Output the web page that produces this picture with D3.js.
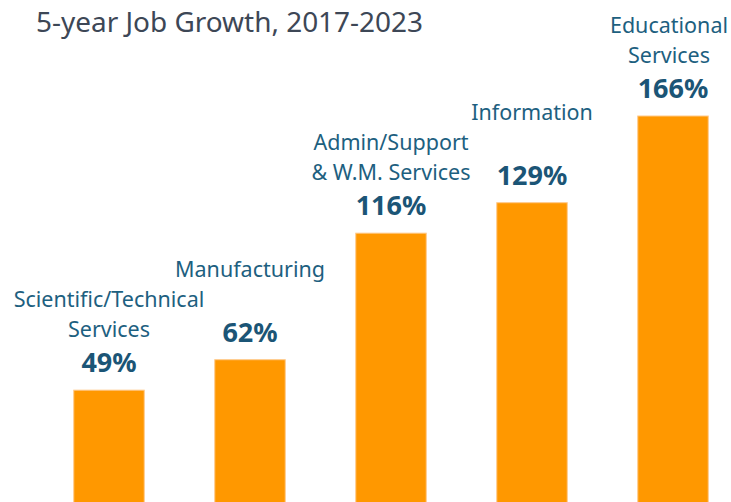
<!DOCTYPE html>
<html>
<head>
<meta charset="utf-8">
<script src="https://cdn.jsdelivr.net/npm/d3@7"></script>
<style>
  body { margin: 0; background: #fff; }
  svg { display: block; font-family: "Noto Sans", "Open Sans", sans-serif; }
</style>
</head>
<body>
<div id="chart"></div>
<script>
// data
var industries = ["Scientific/Technical Services", "Manufacturing", "Admin/Support & W.M. Services", "Information", "Educational Services"];
var labelLines = [["Scientific/Technical", "Services"], ["Manufacturing", ""], ["Admin/Support", "& W.M. Services"], ["Information", ""], ["Educational", "Services"]];
var growth = [49, 62, 116, 129, 166];

var width = 731, height = 502;
var lineh = 30;   // spacing between category label lines

var svg = d3.select('#chart').append('svg')
  .attr('width', width)
  .attr('height', height);

var x = d3.scaleBand()
  .domain(industries)
  .range([38.5, 743.5])
  .paddingInner(0.5)
  .paddingOuter(0.25);

var y = d3.scaleLinear()
  .domain([0, 166])
  .range([505, 116]);

svg.append('text')
  .attr('x', 36).attr('y', 32)
  .attr('fill', '#3d4756')
  .attr('font-size', 27)
  .attr('textLength', 387)
  .attr('lengthAdjust', 'spacingAndGlyphs')
  .text('5-year Job Growth, 2017-2023');

svg.selectAll('.bar')
  .data(industries)
  .enter().append('rect')
  .attr('class', 'bar')
  .attr('x', function(d){ return x(d); })
  .attr('y', function(d, i){ return y(growth[i]); })
  .attr('width', x.bandwidth())
  .attr('height', function(d, i){ return y(0) - y(growth[i]); })
  .attr('fill', '#ff9800')
  .attr('stroke', '#ffc98a')
  .attr('stroke-width', 1);

svg.selectAll('.val')
  .data(industries)
  .enter().append('text')
  .attr('class', 'val')
  .attr('x', function(d){ return x(d) + x.bandwidth()/2; })
  .attr('y', function(d, i){ return y(growth[i]) - 18; })
  .attr('text-anchor', 'middle')
  .attr('font-weight', 'bold')
  .attr('font-size', 27)
  .attr('fill', '#1b5576')
  .text(function(d, i){ return growth[i] + '%'; });

var cats = svg.selectAll('.cat')
  .data(industries)
  .enter().append('text')
  .attr('class', 'cat')
  .attr('text-anchor', 'middle')
  .attr('font-size', 21.5)
  .attr('fill', '#1d6080');

cats.each(function(d, i){
  var cx = x(d) + x.bandwidth()/2;
  var base = y(growth[i]) - 18 - 35;
  var lines = labelLines[i];
  var t = d3.select(this);
  var spans = t.selectAll('tspan')
    .data(lines)
    .enter().append('tspan')
    .attr('x', cx)
    .attr('y', function(l, j){ return base - (lines.length - 1 - j) * lineh; })
    .text(function(l){ return l; });
  // keep the label inside the frame
  var bb = this.getBBox();
  if (bb.x + bb.width > width - 3) {
    spans.attr('x', cx - (bb.x + bb.width - (width - 3)));
  }
});
</script>
</body>
</html>
